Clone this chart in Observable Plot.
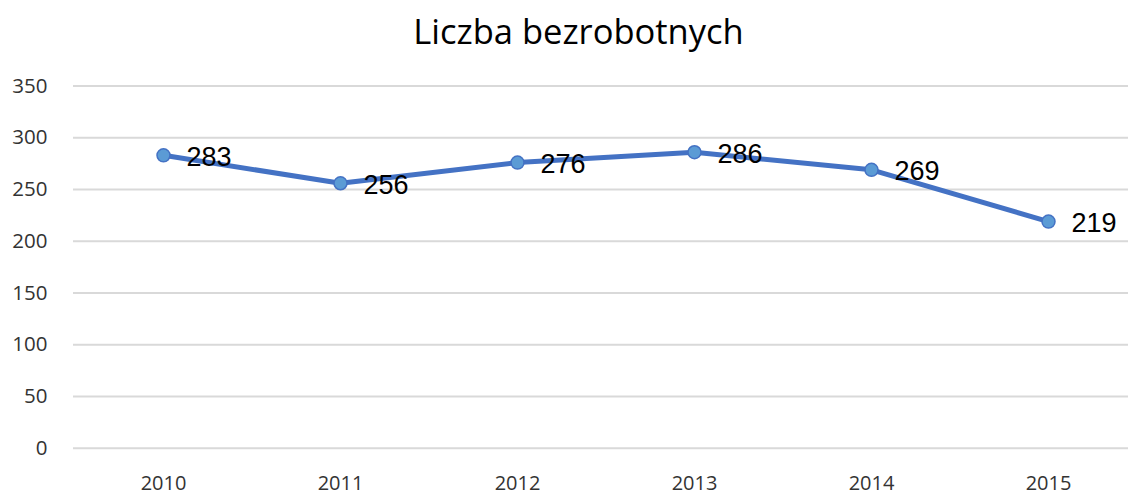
<!DOCTYPE html>
<html>
<head>
<meta charset="utf-8">
<script src="https://cdn.jsdelivr.net/npm/d3@7"></script>
<script src="https://cdn.jsdelivr.net/npm/@observablehq/plot@0.6"></script>
<style>
  html, body { margin: 0; padding: 0; background: #fff; }
  #wrap { position: relative; width: 1128px; height: 495px; overflow: hidden; }
  #title { position: absolute; left: 0; top: 0; width: 1157px; height: 62px; text-align: center;
    font-family: "Open Sans", sans-serif; font-size: 34.5px; line-height: 62px; color: #000; }
  #chart { position: absolute; left: 0; top: 64px; }
</style>
</head>
<body>
<div id="wrap">
  <div id="title">Liczba bezrobotnych</div>
  <div id="chart"></div>
</div>
<script>
const years = ["2010", "2011", "2012", "2013", "2014", "2015"];
const values = [283, 256, 276, 286, 269, 219];
const yTicks = [0, 50, 100, 150, 200, 250, 300, 350];

const data = years.map((y, i) => ({year: y, value: values[i]}));

const chart = Plot.plot({
  width: 1128,
  height: 431,
  marginLeft: 73,
  marginRight: 0,
  marginTop: 21.5,
  marginBottom: 47.3,
  style: {fontFamily: "Open Sans, sans-serif", fontSize: "20px", color: "#404040", background: "#fff"},
  x: {type: "point", domain: years, range: [161.7, 1050], padding: 0, label: null},
  y: {domain: [0, 350], label: null},
  marks: [
    Plot.gridY(yTicks, {stroke: "#d9d9d9", strokeOpacity: 1, strokeWidth: 2}),
    Plot.axisY(yTicks, {tickSize: 0, tickPadding: 26, fontSize: 20.5, label: null, fill: "#333"}),
    Plot.axisX(years, {tickSize: 0, tickPadding: 28, fontSize: 20, label: null, fill: "#333"}),
    Plot.line(data, {x: "year", y: "value", stroke: "#4472C4", strokeWidth: 5, strokeLinejoin: "round"}),
    Plot.dot(data, {x: "year", y: "value", r: 6.5, fill: "#5B9BD5", stroke: "#4472C4", strokeWidth: 1.5}),
    Plot.text(data, {x: "year", y: "value", text: d => String(d.value), textAnchor: "start", dx: 23, dy: 2,
      fontSize: 27, fill: "#000", fontFamily: "Liberation Sans, sans-serif", lineAnchor: "middle"})
  ]
});
document.getElementById("chart").appendChild(chart);
</script>
</body>
</html>
